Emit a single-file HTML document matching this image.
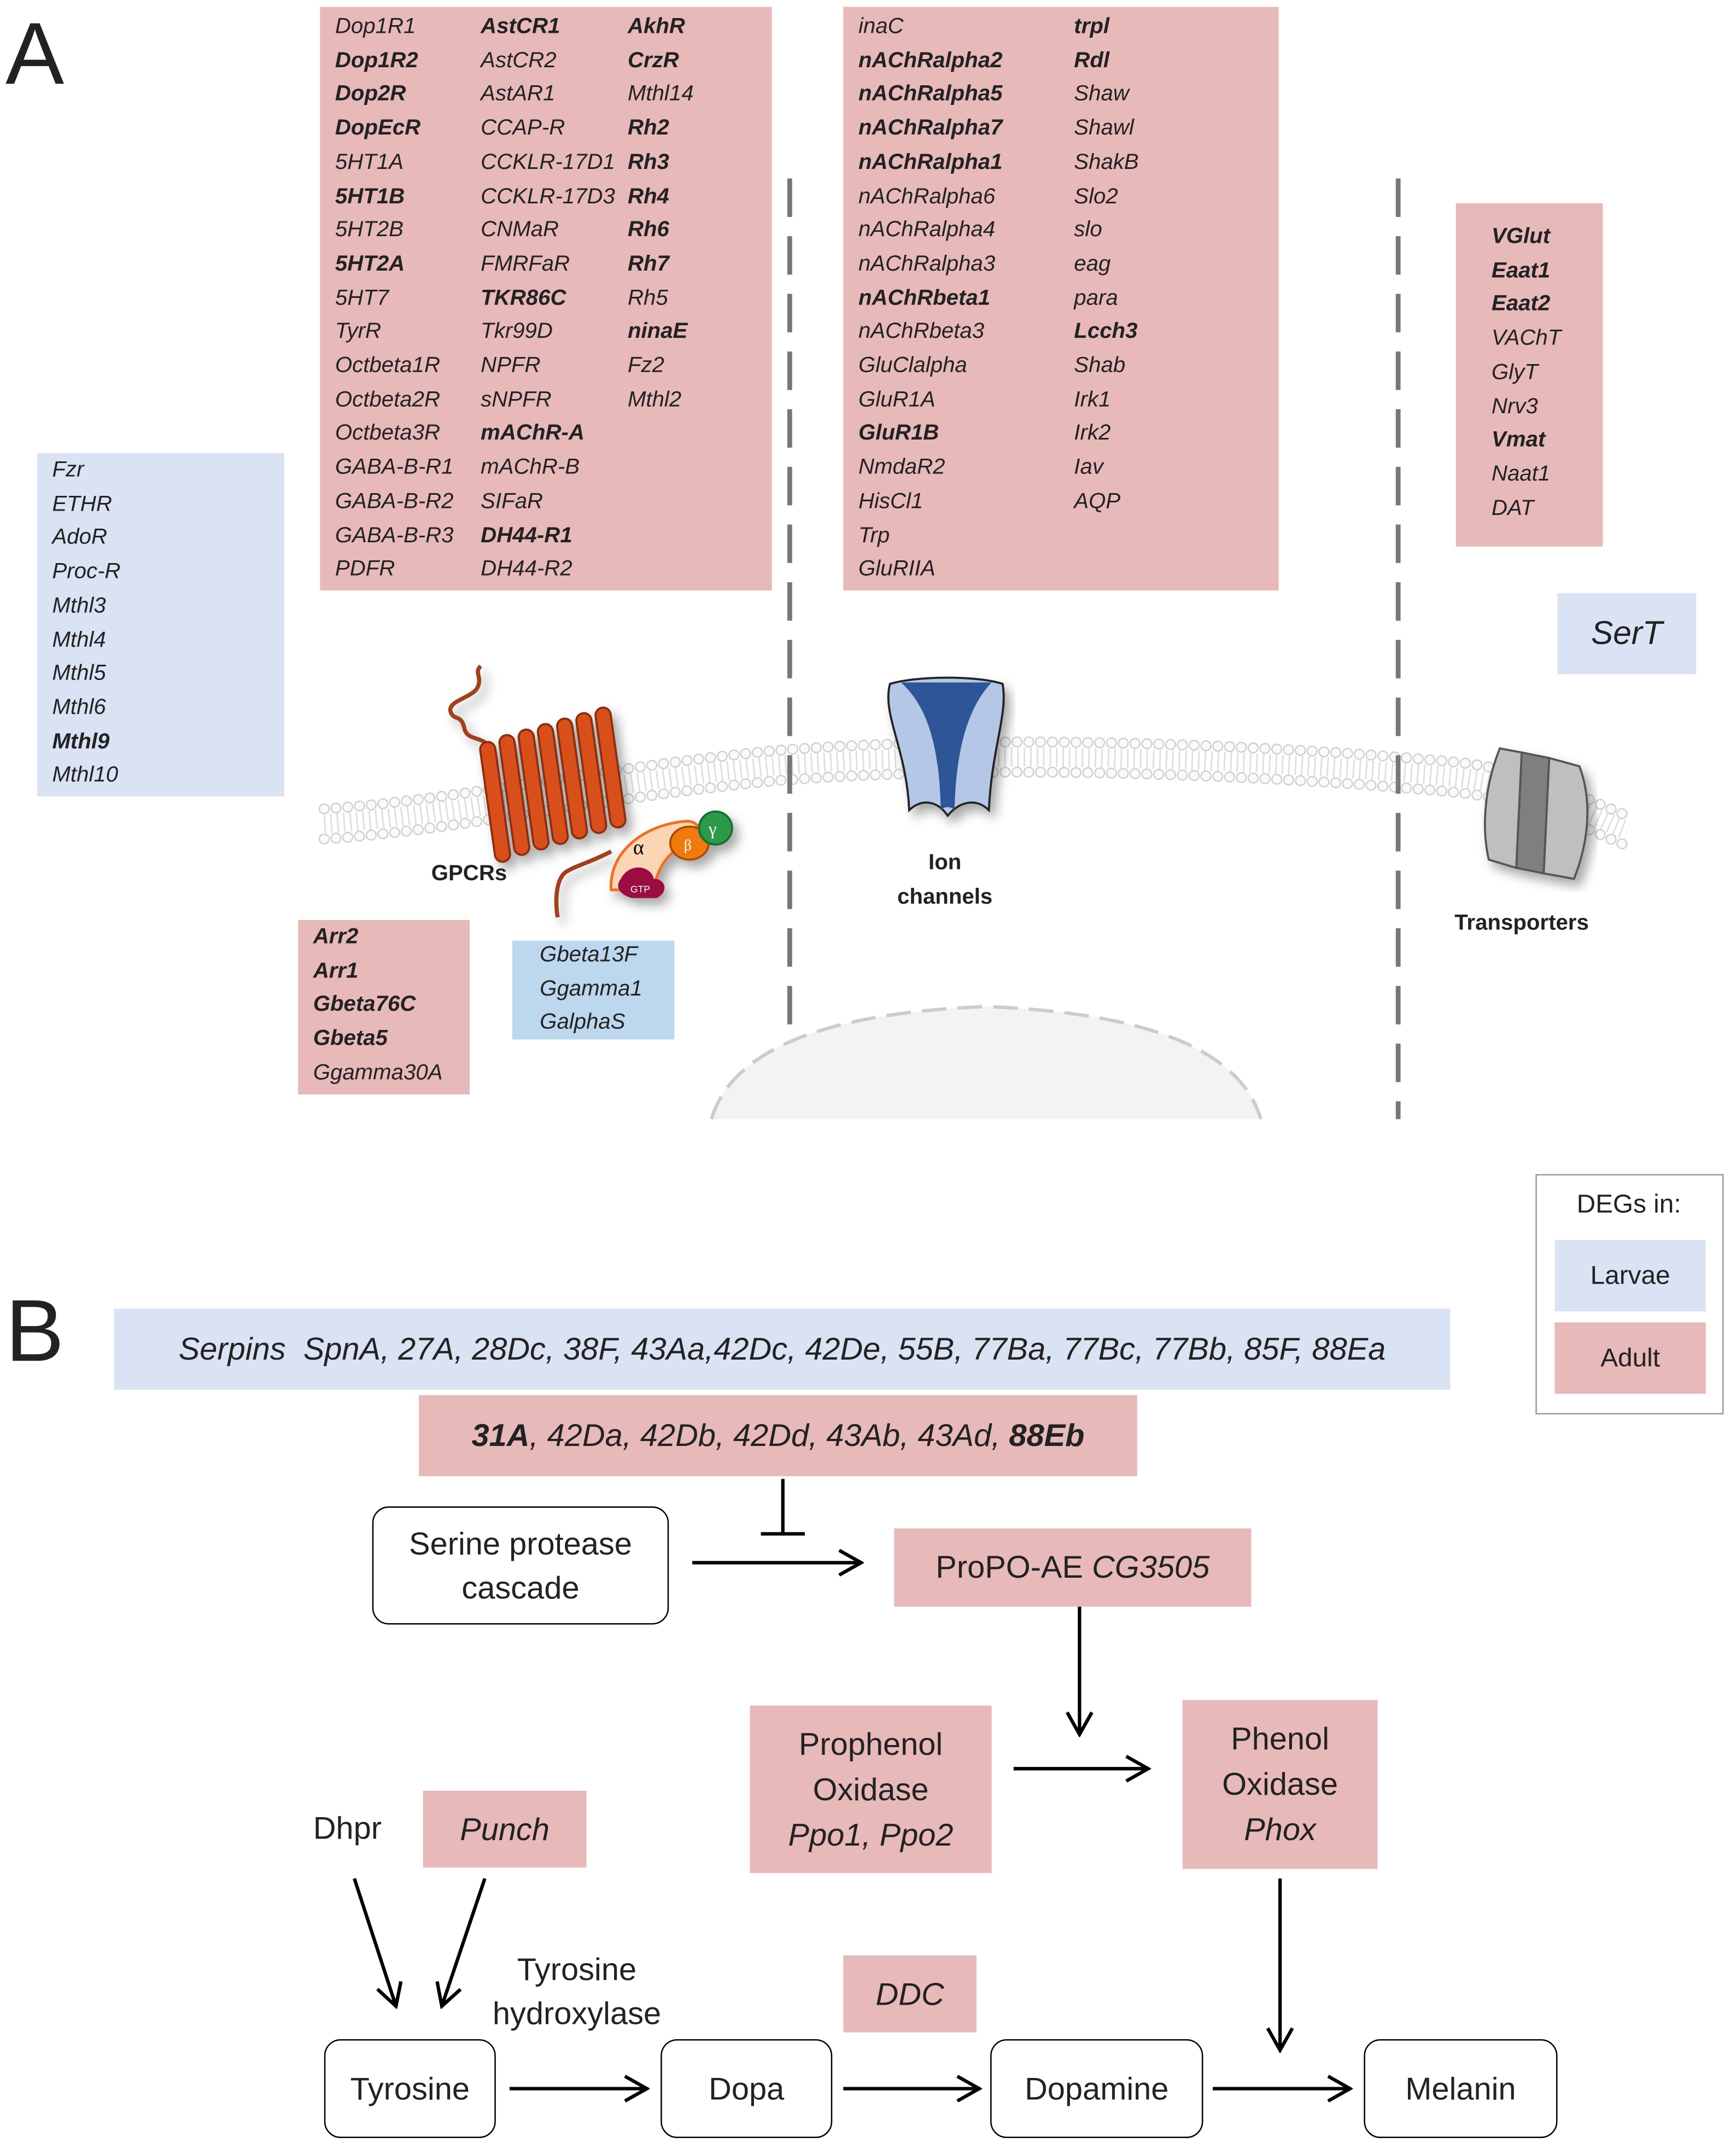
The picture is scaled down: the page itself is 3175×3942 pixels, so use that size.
<!DOCTYPE html>
<html><head><meta charset="utf-8"><style>
html,body{margin:0;padding:0;background:#fff;}
body{width:3175px;height:3942px;overflow:hidden;position:relative;}
#c{position:absolute;left:0;top:0;width:1264px;height:1569px;transform:scale(2.5119);transform-origin:0 0;font-family:"Liberation Sans",sans-serif;color:#222;}
.a{position:absolute;}
.pk{position:absolute;background:#e8b9b9;}
.bl{position:absolute;background:#dae3f3;}
.col{position:absolute;font-style:italic;font-size:16px;line-height:24.7px;white-space:nowrap;}
.col b{font-weight:bold;}
.bx{position:absolute;border:1.6px solid #000;border-radius:12px;background:#fff;display:flex;align-items:center;justify-content:center;text-align:center;font-size:23px;line-height:32px;box-sizing:border-box;}
.ct{display:flex;align-items:center;justify-content:center;text-align:center;font-size:23px;line-height:33px;}
</style></head><body><div id="c">
<div class="a" style="left:4px;top:2px;font-size:64px;">A</div>
<div class="a" style="left:4px;top:932px;font-size:64px;">B</div>

<div class="pk" style="left:233px;top:5px;width:329px;height:425px;"></div>
<div class="col" style="left:244px;top:8px;">Dop1R1<br><b>Dop1R2</b><br><b>Dop2R</b><br><b>DopEcR</b><br>5HT1A<br><b>5HT1B</b><br>5HT2B<br><b>5HT2A</b><br>5HT7<br>TyrR<br>Octbeta1R<br>Octbeta2R<br>Octbeta3R<br>GABA-B-R1<br>GABA-B-R2<br>GABA-B-R3<br>PDFR</div>
<div class="col" style="left:350px;top:8px;"><b>AstCR1</b><br>AstCR2<br>AstAR1<br>CCAP-R<br>CCKLR-17D1<br>CCKLR-17D3<br>CNMaR<br>FMRFaR<br><b>TKR86C</b><br>Tkr99D<br>NPFR<br>sNPFR<br><b>mAChR-A</b><br>mAChR-B<br>SIFaR<br><b>DH44-R1</b><br>DH44-R2</div>
<div class="col" style="left:457px;top:8px;"><b>AkhR</b><br><b>CrzR</b><br>Mthl14<br><b>Rh2</b><br><b>Rh3</b><br><b>Rh4</b><br><b>Rh6</b><br><b>Rh7</b><br>Rh5<br><b>ninaE</b><br>Fz2<br>Mthl2</div>

<div class="pk" style="left:614px;top:5px;width:317px;height:425px;"></div>
<div class="col" style="left:625px;top:8px;">inaC<br><b>nAChRalpha2</b><br><b>nAChRalpha5</b><br><b>nAChRalpha7</b><br><b>nAChRalpha1</b><br>nAChRalpha6<br>nAChRalpha4<br>nAChRalpha3<br><b>nAChRbeta1</b><br>nAChRbeta3<br>GluClalpha<br>GluR1A<br><b>GluR1B</b><br>NmdaR2<br>HisCl1<br>Trp<br>GluRIIA</div>
<div class="col" style="left:782px;top:8px;"><b>trpl</b><br><b>Rdl</b><br>Shaw<br>Shawl<br>ShakB<br>Slo2<br>slo<br>eag<br>para<br><b>Lcch3</b><br>Shab<br>Irk1<br>Irk2<br>Iav<br>AQP</div>

<div class="pk" style="left:1060px;top:148px;width:107px;height:250px;"></div>
<div class="col" style="left:1086px;top:161px;"><b>VGlut</b><br><b>Eaat1</b><br><b>Eaat2</b><br>VAChT<br>GlyT<br>Nrv3<br><b>Vmat</b><br>Naat1<br>DAT</div>
<div class="bl ct" style="left:1134px;top:432px;width:101px;height:59px;font-style:italic;font-size:24px;">SerT</div>

<div class="bl" style="left:27px;top:330px;width:180px;height:250px;"></div>
<div class="col" style="left:38px;top:331px;">Fzr<br>ETHR<br>AdoR<br>Proc-R<br>Mthl3<br>Mthl4<br>Mthl5<br>Mthl6<br><b>Mthl9</b><br>Mthl10</div>

<div class="pk" style="left:217px;top:670px;width:125px;height:127px;"></div>
<div class="col" style="left:228px;top:671px;"><b>Arr2</b><br><b>Arr1</b><br><b>Gbeta76C</b><br><b>Gbeta5</b><br>Ggamma30A</div>
<div class="a" style="left:373px;top:685px;width:118px;height:72px;background:#bdd7ee;"></div>
<div class="col" style="left:393px;top:684px;">Gbeta13F<br>Ggamma1<br>GalphaS</div>

<svg class="a" style="left:0;top:0;" width="1264" height="1569" viewBox="0 0 1264 1569">
<defs>
<marker id="ar" markerWidth="20" markerHeight="20" refX="17" refY="10" orient="auto" markerUnits="userSpaceOnUse"><path d="M2,1 L18,10 L2,19" fill="none" stroke="#000" stroke-width="2.5"/></marker>
<filter id="sh"><feDropShadow dx="4" dy="5" stdDeviation="4" flood-opacity="0.35"/></filter>
</defs>
<!-- nucleus -->
<path d="M518,815 Q540,740 718,733 Q896,740 918,815" fill="#f3f3f3" stroke="#ccc" stroke-width="2.5" stroke-dasharray="18 8"/>
<!-- membrane -->
<g fill="none">
<path d="M236,600 C330,594 430,571 560,558 C700,546 900,551 1060,566 C1120,572 1160,596 1185,605" stroke="#e0e0e0" stroke-width="14" stroke-dasharray="1.2 3.5"/>
</g>
<g fill="none" stroke-linecap="round">
<path d="M236,589 C330,583 430,560 560,547 C700,535 900,540 1060,555 C1120,561 1160,585 1185,594" stroke="#d0d0d0" stroke-width="8" stroke-dasharray="0.1 8.5"/>
<path d="M236,611 C330,605 430,582 560,569 C700,557 900,562 1060,577 C1120,583 1160,607 1185,616" stroke="#d0d0d0" stroke-width="8" stroke-dasharray="0.1 8.5"/>
<path d="M236,589 C330,583 430,560 560,547 C700,535 900,540 1060,555 C1120,561 1160,585 1185,594" stroke="#fafafa" stroke-width="6" stroke-dasharray="0.1 8.5"/>
<path d="M236,611 C330,605 430,582 560,569 C700,557 900,562 1060,577 C1120,583 1160,607 1185,616" stroke="#fafafa" stroke-width="6" stroke-dasharray="0.1 8.5"/>
</g>
<!-- dashed lines -->
<line x1="575" y1="130" x2="575" y2="755" stroke="#777" stroke-width="3.5" stroke-dasharray="28 14"/>
<line x1="1018" y1="130" x2="1018" y2="815" stroke="#777" stroke-width="3.5" stroke-dasharray="28 14"/>
<!-- GPCR -->
<g filter="url(#sh)">
<path d="M358,545 C350,535 340,540 338,530 C336,520 330,525 328,518 C326,510 345,508 348,500 C351,492 345,490 350,485" fill="none" stroke="#a0401a" stroke-width="3"/>
<path d="M445,620 C430,628 420,630 412,635 C405,640 404,655 406,668" fill="none" stroke="#a0401a" stroke-width="3"/>
<g fill="#d94f1c" stroke="#8b2d10" stroke-width="1.5">
<rect x="355" y="540" width="11" height="88" rx="5.5" transform="rotate(-8 360 584)"/>
<rect x="369" y="535" width="11" height="88" rx="5.5" transform="rotate(-8 374 579)"/>
<rect x="383" y="531" width="11" height="88" rx="5.5" transform="rotate(-8 388 575)"/>
<rect x="397" y="527" width="11" height="88" rx="5.5" transform="rotate(-8 402 571)"/>
<rect x="411" y="523" width="11" height="88" rx="5.5" transform="rotate(-8 416 567)"/>
<rect x="425" y="519" width="11" height="88" rx="5.5" transform="rotate(-8 430 563)"/>
<rect x="439" y="515" width="11" height="88" rx="5.5" transform="rotate(-8 444 559)"/>
</g>
<path d="M445,648 C443,620 470,600 500,598 C512,598 512,612 500,615 C485,620 478,635 476,648 Z" fill="#fcd5b4" stroke="#f07020" stroke-width="2"/>
<ellipse cx="502" cy="614" rx="14" ry="12" fill="#f07a10" stroke="#b04800" stroke-width="1.5"/>
<circle cx="521" cy="603" r="12" fill="#2f9a4a" stroke="#157030" stroke-width="1.5"/>
<path d="M452,640 C458,628 474,630 476,640 C485,640 487,650 478,654 L460,654 C450,651 448,645 452,640 Z" fill="#9b1040"/>
</g>
<text x="461" y="622" font-family="Liberation Serif,serif" font-size="15">α</text>
<text x="498" y="619" font-family="Liberation Serif,serif" font-size="11" fill="#fff">β</text>
<text x="516" y="608" font-family="Liberation Serif,serif" font-size="13" fill="#fff">γ</text>
<text x="459" y="650" font-family="Liberation Sans,sans-serif" font-size="7" fill="#fff">GTP</text>
<!-- ion channel -->
<g filter="url(#sh)">
<path d="M648,498 C668,492 712,492 730,498 C734,520 722,545 720,590 C712,582 700,582 690,594 C682,582 670,582 662,590 C660,545 642,520 648,498 Z" fill="#b4c7e7" stroke="#222" stroke-width="1.5"/>
<path d="M656,497 L722,497 C705,515 696,545 695,590 C692,587 688,587 685,590 C684,545 676,515 656,497 Z" fill="#2f5597"/>
</g>
<!-- transporter -->
<g filter="url(#sh)">
<path d="M1092,545 L1108,548 L1104,632 L1084,626 C1078,600 1082,570 1092,545 Z" fill="#bfbfbf" stroke="#555" stroke-width="1.5"/>
<path d="M1108,548 L1128,552 L1124,636 L1104,632 Z" fill="#7f7f7f" stroke="#555" stroke-width="1.5"/>
<path d="M1128,552 L1150,558 C1160,585 1156,615 1146,640 L1124,636 Z" fill="#bfbfbf" stroke="#555" stroke-width="1.5"/>
</g>
<!-- B arrows -->
<g stroke="#000" stroke-width="2.5" fill="none">
<line x1="570" y1="1077" x2="570" y2="1117"/><line x1="554" y1="1117" x2="586" y2="1117"/>
<line x1="504" y1="1138" x2="626" y2="1138" marker-end="url(#ar)"/>
<line x1="786" y1="1170" x2="786" y2="1262" marker-end="url(#ar)"/>
<line x1="738" y1="1288" x2="835" y2="1288" marker-end="url(#ar)"/>
<line x1="258" y1="1368" x2="288" y2="1460" marker-end="url(#ar)"/>
<line x1="353" y1="1368" x2="322" y2="1460" marker-end="url(#ar)"/>
<line x1="932" y1="1368" x2="932" y2="1492" marker-end="url(#ar)"/>
<line x1="371" y1="1521" x2="470" y2="1521" marker-end="url(#ar)"/>
<line x1="614" y1="1521" x2="712" y2="1521" marker-end="url(#ar)"/>
<line x1="883" y1="1521" x2="982" y2="1521" marker-end="url(#ar)"/>
</g>
</svg>
<div class="a" style="left:314px;top:628px;font-weight:bold;font-size:16px;">GPCRs</div>
<div class="a" style="left:640px;top:616px;width:96px;text-align:center;font-weight:bold;font-size:16px;line-height:25px;">Ion<br>channels</div>
<div class="a" style="left:1059px;top:664px;font-weight:bold;font-size:16px;">Transporters</div>

<!-- legend -->
<div class="a" style="left:1118px;top:855px;width:137px;height:175px;border:1.5px solid #999;box-sizing:border-box;"></div>
<div class="a" style="left:1118px;top:867px;width:136px;text-align:center;font-size:19px;">DEGs in:</div>
<div class="bl ct" style="left:1132px;top:903px;width:110px;height:52px;font-size:19px;">Larvae</div>
<div class="pk ct" style="left:1132px;top:963px;width:110px;height:52px;font-size:19px;">Adult</div>

<div class="bl ct" style="left:83px;top:953px;width:973px;height:59px;font-style:italic;font-size:23px;">Serpins&nbsp; SpnA, 27A, 28Dc, 38F, 43Aa,42Dc, 42De, 55B, 77Ba, 77Bc, 77Bb, 85F, 88Ea</div>
<div class="pk ct" style="left:305px;top:1016px;width:523px;height:59px;font-style:italic;font-size:23px;"><span><b>31A</b>, 42Da, 42Db, 42Dd, 43Ab, 43Ad, <b>88Eb</b></span></div>
<div class="bx" style="left:271px;top:1097px;width:216px;height:86px;">Serine protease<br>cascade</div>
<div class="pk ct" style="left:651px;top:1113px;width:260px;height:57px;"><span>ProPO-AE <i>CG3505</i></span></div>
<div class="pk ct" style="left:546px;top:1242px;width:176px;height:122px;"><span>Prophenol<br>Oxidase<br><i>Ppo1, Ppo2</i></span></div>
<div class="pk ct" style="left:861px;top:1238px;width:142px;height:123px;"><span>Phenol<br>Oxidase<br><i>Phox</i></span></div>
<div class="a" style="left:228px;top:1318px;font-size:23px;">Dhpr</div>
<div class="pk ct" style="left:308px;top:1304px;width:119px;height:56px;font-style:italic;">Punch</div>
<div class="a" style="left:350px;top:1418px;width:140px;text-align:center;font-size:23px;line-height:32px;">Tyrosine<br>hydroxylase</div>
<div class="pk ct" style="left:614px;top:1424px;width:97px;height:56px;font-style:italic;">DDC</div>
<div class="bx" style="left:236px;top:1485px;width:125px;height:72px;">Tyrosine</div>
<div class="bx" style="left:481px;top:1485px;width:125px;height:72px;">Dopa</div>
<div class="bx" style="left:721px;top:1485px;width:155px;height:72px;">Dopamine</div>
<div class="bx" style="left:993px;top:1485px;width:141px;height:72px;">Melanin</div>
</div></body></html>
